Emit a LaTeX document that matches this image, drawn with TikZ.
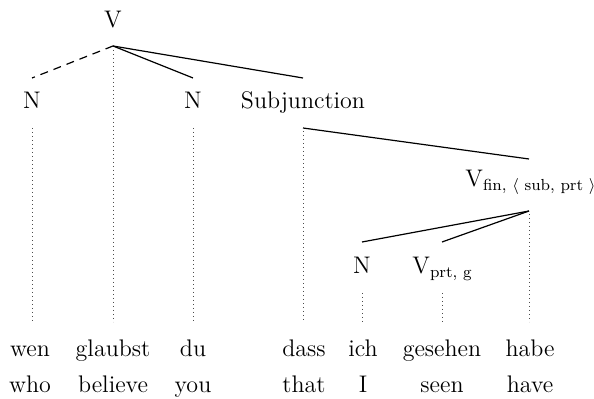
\documentclass[tikz,border=0pt]{standalone}
\begin{document}
\begin{tikzpicture}[x=0.5pt,y=-0.5pt,
  lbl/.style={anchor=base,inner sep=0pt,font=\fontsize{12}{14}\selectfont},
  lblw/.style={anchor=base west,inner sep=0pt,font=\fontsize{12}{14}\selectfont},
  edge/.style={line width=0.6pt},
  dashedge/.style={line width=0.6pt,dash pattern=on 4pt off 3pt},
  dotline/.style={line width=0.5pt,dash pattern=on 0.4pt off 1.6pt,black!70}]
\useasboundingbox (0,0) rectangle (594,399);
% labels
\node[lbl] (V) at (113,28) {V};
\node[lbl] (N1) at (32,109) {N};
\node[lbl] (N2) at (193,109) {N};
\node[lbl] (Sub) at (303,109) {Subjunction};
\node[lblw] (Vfin) at (465,187) {V\textsubscript{fin, $\langle$ sub, prt $\rangle$}};
\node[lbl] (N3) at (362,274) {N};
\node[lblw] (Vprt) at (412,274) {V\textsubscript{prt, g}};
% words
\foreach \n/\x/\a/\b in {w1/30/wen/who, w2/113/glaubst/believe, w3/193/du/you, w4/304/dass/that, w5/363/ich/I, w6/442/gesehen/seen, w7/530/habe/have}{
  \node[lbl] (\n a) at (\x,357) {\a};
  \node[lbl] (\n b) at (\x,393) {\b};
}
% coordinates
\coordinate (Vt) at (113,46);
\coordinate (N1t) at (32,78);
\coordinate (N2t) at (193,78);
\coordinate (Subt) at (303,78);
\coordinate (Subb) at (303,128);
\coordinate (Vfint) at (529,159);
\coordinate (Vfinb) at (529,211);
\coordinate (N3t) at (362,242);
\coordinate (Vprtt) at (442,242);
% tree edges
\draw[dashedge] (Vt) -- (N1t);
\draw[edge] (Vt) -- (N2t);
\draw[edge] (Vt) -- (Subt);
\draw[edge] (Subb) -- (Vfint);
\draw[edge] (Vfinb) -- (N3t);
\draw[edge] (Vfinb) -- (Vprtt);
% dotted projection lines
\coordinate (d1) at (32,128);   \coordinate (e1) at (32,322);
\coordinate (d2) at (113,50);   \coordinate (e2) at (113,322);
\coordinate (d3) at (193,128);  \coordinate (e3) at (193,322);
\coordinate (d4) at (303,131);  \coordinate (e4) at (303,322);
\coordinate (d5) at (362,293);  \coordinate (e5) at (362,322);
\coordinate (d6) at (442,293);  \coordinate (e6) at (442,322);
\coordinate (d7) at (529,214);  \coordinate (e7) at (529,322);
\foreach \i in {1,...,7}{\draw[dotline] (d\i) -- (e\i);}
\end{tikzpicture}
\end{document}
